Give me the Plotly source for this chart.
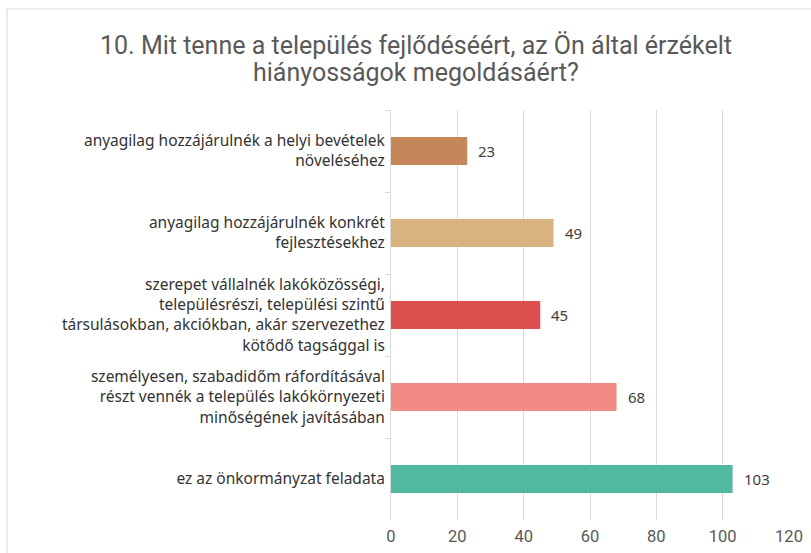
import plotly.graph_objects as go

categories = [
    "anyagilag hozzájárulnék a helyi bevételek<br>növeléséhez",
    "anyagilag hozzájárulnék konkrét<br>fejlesztésekhez",
    "szerepet vállalnék lakóközösségi,<br>településrészi, települési szintű<br>társulásokban, akciókban, akár szervezethez<br>kötődő tagsággal is",
    "személyesen, szabadidőm ráfordításával<br>részt vennék a település lakókörnyezeti<br>minőségének javításában",
    "ez az önkormányzat feladata",
]
values = [23, 49, 45, 68, 103]
colors = ["#C4875A", "#D8B27F", "#DD4F4F", "#F28B84", "#52B9A1"]
x_ticks = [0, 20, 40, 60, 80, 100, 120]
title_lines = [
    "10. Mit tenne a település fejlődéséért, az Ön által érzékelt",
    "hiányosságok megoldásáért?",
]

fig = go.Figure(go.Bar(
    y=categories,
    x=values,
    orientation="h",
    marker=dict(color=colors, line=dict(width=0)),
    width=0.34,
    hoverinfo="x+y",
))

W, H = 811, 553
ml, mr, mt, mb = 391, 22, 110, 33
pw = W - ml - mr
ph = H - mt - mb

def px_x(x):
    return (x - ml) / pw

def px_y(y):
    return (H - mb - y) / ph

annotations = []
for cat, v in zip(categories, values):
    annotations.append(dict(
        x=v, y=cat, xref="x", yref="y", text=str(v),
        showarrow=False, xanchor="left", yanchor="middle", xshift=9,
        font=dict(family="Noto Sans", size=15, color="#404040"),
    ))
for i, line in enumerate(title_lines):
    annotations.append(dict(
        x=px_x(416), y=px_y(45 + 28 * i), xref="paper", yref="paper",
        text=line, showarrow=False, xanchor="center", yanchor="middle",
        font=dict(family="Roboto", size=25, color="#595959"),
    ))

fig.update_layout(
    width=W, height=H,
    margin=dict(l=ml, r=mr, t=mt, b=mb),
    paper_bgcolor="white",
    plot_bgcolor="white",
    showlegend=False,
    font=dict(family="Noto Sans", color="#404040"),
    annotations=annotations,
    shapes=[dict(
        type="rect", xref="paper", yref="paper",
        x0=px_x(7), x1=px_x(830), y0=px_y(9), y1=px_y(570),
        line=dict(color="#D9D9D9", width=1), fillcolor="rgba(0,0,0,0)",
        layer="below",
    )],
)

fig.update_xaxes(
    range=[0, 120],
    tickvals=x_ticks,
    showgrid=True, gridcolor="#D9D9D9", gridwidth=1,
    zeroline=False,
    showline=False,
    ticks="",
    automargin=False,
    ticklabelstandoff=4,
    tickfont=dict(family="Roboto", size=16.5, color="#595959"),
)
fig.update_yaxes(
    autorange="reversed",
    showline=True, linecolor="#D9D9D9", linewidth=1,
    ticks="outside", tickson="boundaries", ticklen=5, tickcolor="#D9D9D9",
    automargin=False,
    tickfont=dict(family="Noto Sans", size=15.5, color="#333333"),
    ticklabelstandoff=2,
)

fig.write_html(
    "out.html",
    config={"displayModeBar": False},
    post_script="document.body.style.margin='0';document.body.style.overflow='hidden';",
)
